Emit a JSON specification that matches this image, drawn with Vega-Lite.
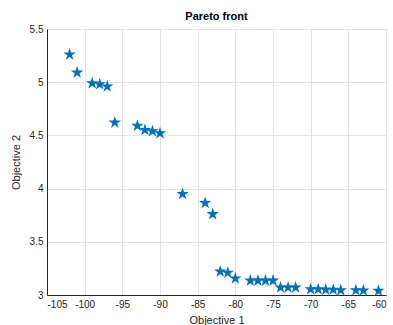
{
  "$schema": "https://vega.github.io/schema/vega-lite/v6.json",
  "width": 339,
  "height": 266,
  "autosize": {"type": "none"},
  "padding": {"left": 47, "top": 29, "right": 7, "bottom": 30},
  "background": "white",
  "title": {"text": "Pareto front", "font": "Liberation Sans", "fontSize": 11, "fontWeight": "bold", "color": "#000000", "offset": 2},
  "config": {
    "view": {"stroke": null},
    "axis": {
      "labelFont": "Liberation Sans", "labelFontSize": 10, "labelColor": "#262626",
      "titleFont": "Liberation Sans", "titleFontSize": 11, "titleFontWeight": "normal", "titleColor": "#262626",
      "domainColor": "#262626", "domainWidth": 1,
      "gridColor": "#e5e5e5", "gridWidth": 1,
      "ticks": false
    }
  },
  "data": {"values": [
    {"o1": -102, "o2": 5.26}, {"o1": -101, "o2": 5.09}, {"o1": -99, "o2": 4.99}, {"o1": -98, "o2": 4.98}, {"o1": -97, "o2": 4.96},
    {"o1": -96, "o2": 4.62}, {"o1": -93, "o2": 4.59}, {"o1": -92, "o2": 4.55}, {"o1": -91, "o2": 4.54}, {"o1": -90, "o2": 4.52},
    {"o1": -87, "o2": 3.95}, {"o1": -84, "o2": 3.865}, {"o1": -83, "o2": 3.76},
    {"o1": -82, "o2": 3.22}, {"o1": -81, "o2": 3.21}, {"o1": -80, "o2": 3.155},
    {"o1": -78, "o2": 3.135}, {"o1": -77, "o2": 3.135}, {"o1": -76, "o2": 3.135}, {"o1": -75, "o2": 3.135},
    {"o1": -74, "o2": 3.07}, {"o1": -73, "o2": 3.07}, {"o1": -72, "o2": 3.07},
    {"o1": -70, "o2": 3.055}, {"o1": -69, "o2": 3.055}, {"o1": -68, "o2": 3.05}, {"o1": -67, "o2": 3.05}, {"o1": -66, "o2": 3.045},
    {"o1": -64, "o2": 3.045}, {"o1": -63, "o2": 3.043}, {"o1": -61, "o2": 3.04}
  ]},
  "mark": {
    "type": "point",
    "shape": "M0,-1L0.225,-0.309L0.951,-0.309L0.363,0.118L0.588,0.809L0,0.382L-0.588,0.809L-0.363,0.118L-0.951,-0.309L-0.225,-0.309Z",
    "filled": true,
    "size": 170,
    "color": "#0072BD",
    "opacity": 1,
    "clip": false
  },
  "encoding": {
    "x": {"field": "o1", "type": "quantitative", "title": "Objective 1",
      "scale": {"domain": [-105, -60], "nice": false, "zero": false},
      "axis": {"values": [-105, -100, -95, -90, -85, -80, -75, -70, -65, -60], "labelPadding": 4, "titlePadding": 5, "labelExpr": "toString(datum.value)"}},
    "y": {"field": "o2", "type": "quantitative", "title": "Objective 2",
      "scale": {"domain": [3, 5.5], "nice": false, "zero": false},
      "axis": {"values": [3, 3.5, 4, 4.5, 5, 5.5], "labelPadding": 4, "titlePadding": 8, "labelExpr": "toString(datum.value)"}}
  }
}
